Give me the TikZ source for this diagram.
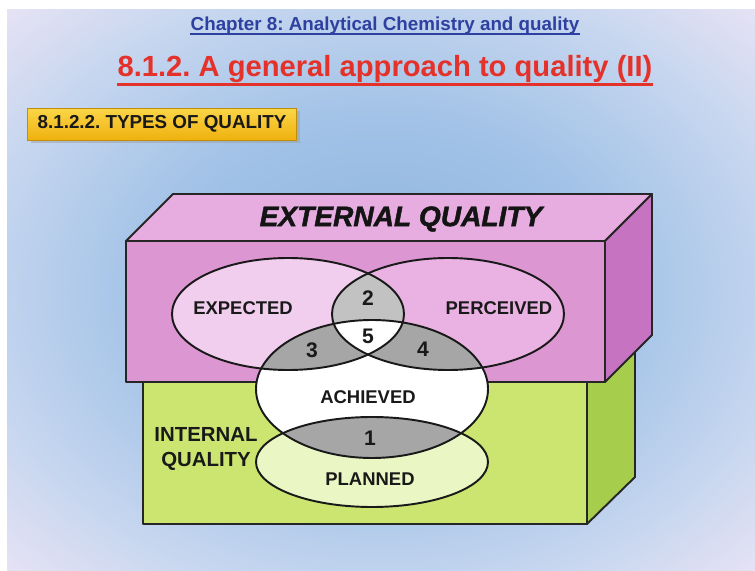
\documentclass[tikz,border=0pt]{standalone}
\usepackage{fontspec}
\setmainfont{Liberation Sans}
\newfontface\heavyit{Liberation Sans Bold Italic}[FakeBold=1.6]
\usetikzlibrary{positioning}

\definecolor{bgin}{HTML}{8CB3DF}
\definecolor{bgmid}{HTML}{A3C3E7}
\definecolor{bgedge}{HTML}{C6D6EF}
\definecolor{bgout}{HTML}{F0E6F6}
\definecolor{chapblue}{HTML}{2E40A0}
\definecolor{titlered}{HTML}{E4322A}
\definecolor{tagtop}{HTML}{FAD648}
\definecolor{tagbot}{HTML}{EFB10E}
\definecolor{pinkfront}{HTML}{DC96D1}
\definecolor{pinktop}{HTML}{E7ADE0}
\definecolor{pinkside}{HTML}{C673C2}
\definecolor{greenfront}{HTML}{CCE570}
\definecolor{greenside}{HTML}{A6CD4C}
\definecolor{expfill}{HTML}{F1CDEE}
\definecolor{perfill}{HTML}{E9B2E2}
\definecolor{planfill}{HTML}{EBF6C5}
\definecolor{lensgray}{HTML}{C2C2C2}
\definecolor{overlapgray}{HTML}{A6A6A6}

% Blue centre fading to lavender corners
\pgfdeclareradialshading{slidebg}{\pgfpoint{0bp}{0bp}}{%
  color(0bp)=(bgin); color(16bp)=(bgmid); color(27bp)=(bgedge);
  color(38bp)=(bgout); color(70bp)=(bgout)}

\frenchspacing

\begin{document}
\begin{tikzpicture}[
  x=0.02cm, y=-0.02cm,
  edge/.style={draw=black!85, line width=1.1pt, line join=round},
  ring/.style={draw=black!90, line width=1.1pt},
  lbl/.style={font=\fontsize{10.5}{12}\selectfont\bfseries, text=black!90},
  num/.style={font=\fontsize{12}{14}\selectfont\bfseries, text=black!90},
  tagbox/.style={top color=tagtop, bottom color=tagbot, draw=tagbot!80!black,
    line width=0.4pt, minimum width=5.38cm, minimum height=0.64cm, inner sep=0pt,
    font=\fontsize{10.7}{12}\selectfont\bfseries, text=black!90},
]

% Geometry of the four ovals
\def\Exp{(288,314) ellipse [x radius=116, y radius=56]}
\def\Per{(448,314) ellipse [x radius=116, y radius=56]}
\def\Ach{(372,389) ellipse [x radius=116, y radius=69]}
\def\Pla{(372,462) ellipse [x radius=116, y radius=45]}

\useasboundingbox (0,0) rectangle (755,571);

% ── Slide background ────────────────────────────────────────────────────
\fill[white] (0,0) rectangle (755,571);
\shade[shading=slidebg] (7,10) rectangle (755,571);

% ── Headings ────────────────────────────────────────────────────────────
\node[anchor=base, inner sep=0pt, text=chapblue,
  font=\fontsize{10.7}{12}\selectfont\bfseries] (chapter) at (385,31)
  {Chapter 8: Analytical Chemistry and quality};
\draw[chapblue, line width=0.9pt]
  ([yshift=-1.8pt]chapter.base west) -- ([yshift=-1.8pt]chapter.base east);

\node[anchor=base, inner sep=0pt, text=titlered,
  font=\fontsize{16.6}{19}\selectfont\bfseries] (title) at (385,77)
  {8.1.2. A general approach to quality (II)};
\draw[titlered, line width=1.4pt]
  ([yshift=-4.3pt]title.base west) -- ([yshift=-4.3pt]title.base east);

% Yellow section tag (with a soft shadow)
\fill[black!40, opacity=0.45] (31,111) rectangle (300,143);
\node[tagbox] (tag) at (162,124) {8.1.2.2. TYPES OF QUALITY};

% ── Internal quality box (green, behind) ────────────────────────────────
\filldraw[edge, fill=greenside]
  (587,382) -- (635,335) -- (635,477) -- (587,524) -- cycle;
\filldraw[edge, fill=greenfront] (143,382) rectangle (587,524);

% ── External quality box (pink, in front) ───────────────────────────────
\filldraw[edge, fill=pinktop]
  (126,241) -- (173,194) -- (652,194) -- (605,241) -- cycle;
\filldraw[edge, fill=pinkside]
  (605,241) -- (652,194) -- (652,335) -- (605,382) -- cycle;
\filldraw[edge, fill=pinkfront] (126,241) rectangle (605,382);

% ── Ovals and their overlaps ────────────────────────────────────────────
\fill[expfill] \Exp;
\fill[perfill] \Per;
\fill[white] \Ach;
\fill[planfill] \Pla;

% 2: expected and perceived
\begin{scope}
  \clip \Exp;
  \fill[lensgray] \Per;
\end{scope}
% 3 and 4: expected / perceived with achieved
\begin{scope}
  \clip \Ach;
  \fill[overlapgray] \Exp;
  \fill[overlapgray] \Per;
\end{scope}
% 5: all three
\begin{scope}
  \clip \Ach;
  \clip \Exp;
  \fill[white] \Per;
\end{scope}
% 1: achieved and planned
\begin{scope}
  \clip \Ach;
  \fill[overlapgray] \Pla;
\end{scope}

\draw[ring] \Exp;
\draw[ring] \Per;
\draw[ring] \Ach;
\draw[ring] \Pla;

% ── Labels ──────────────────────────────────────────────────────────────
\node[font=\fontsize{16}{19}\heavyit, text=black!92]
  (external) at (401,219) {EXTERNAL QUALITY};
\node[font=\fontsize{11.6}{14}\selectfont\bfseries, text=black!90, align=center]
  (internal) at (206,449) {INTERNAL\\QUALITY};

\node[lbl] (expected)  at (243,308) {EXPECTED};
\node[lbl] (perceived) at (499,308) {PERCEIVED};
\node[lbl] (achieved)  at (368,397) {ACHIEVED};
\node[lbl] (planned)   at (370,479) {PLANNED};

\node[num] (n2) at (368,298) {2};
\node[num] (n5) at (368,336) {5};
\node[num] (n3) at (312,350) {3};
\node[num] (n4) at (423,349) {4};
\node[num] (n1) at (370,438) {1};

\end{tikzpicture}
\end{document}
